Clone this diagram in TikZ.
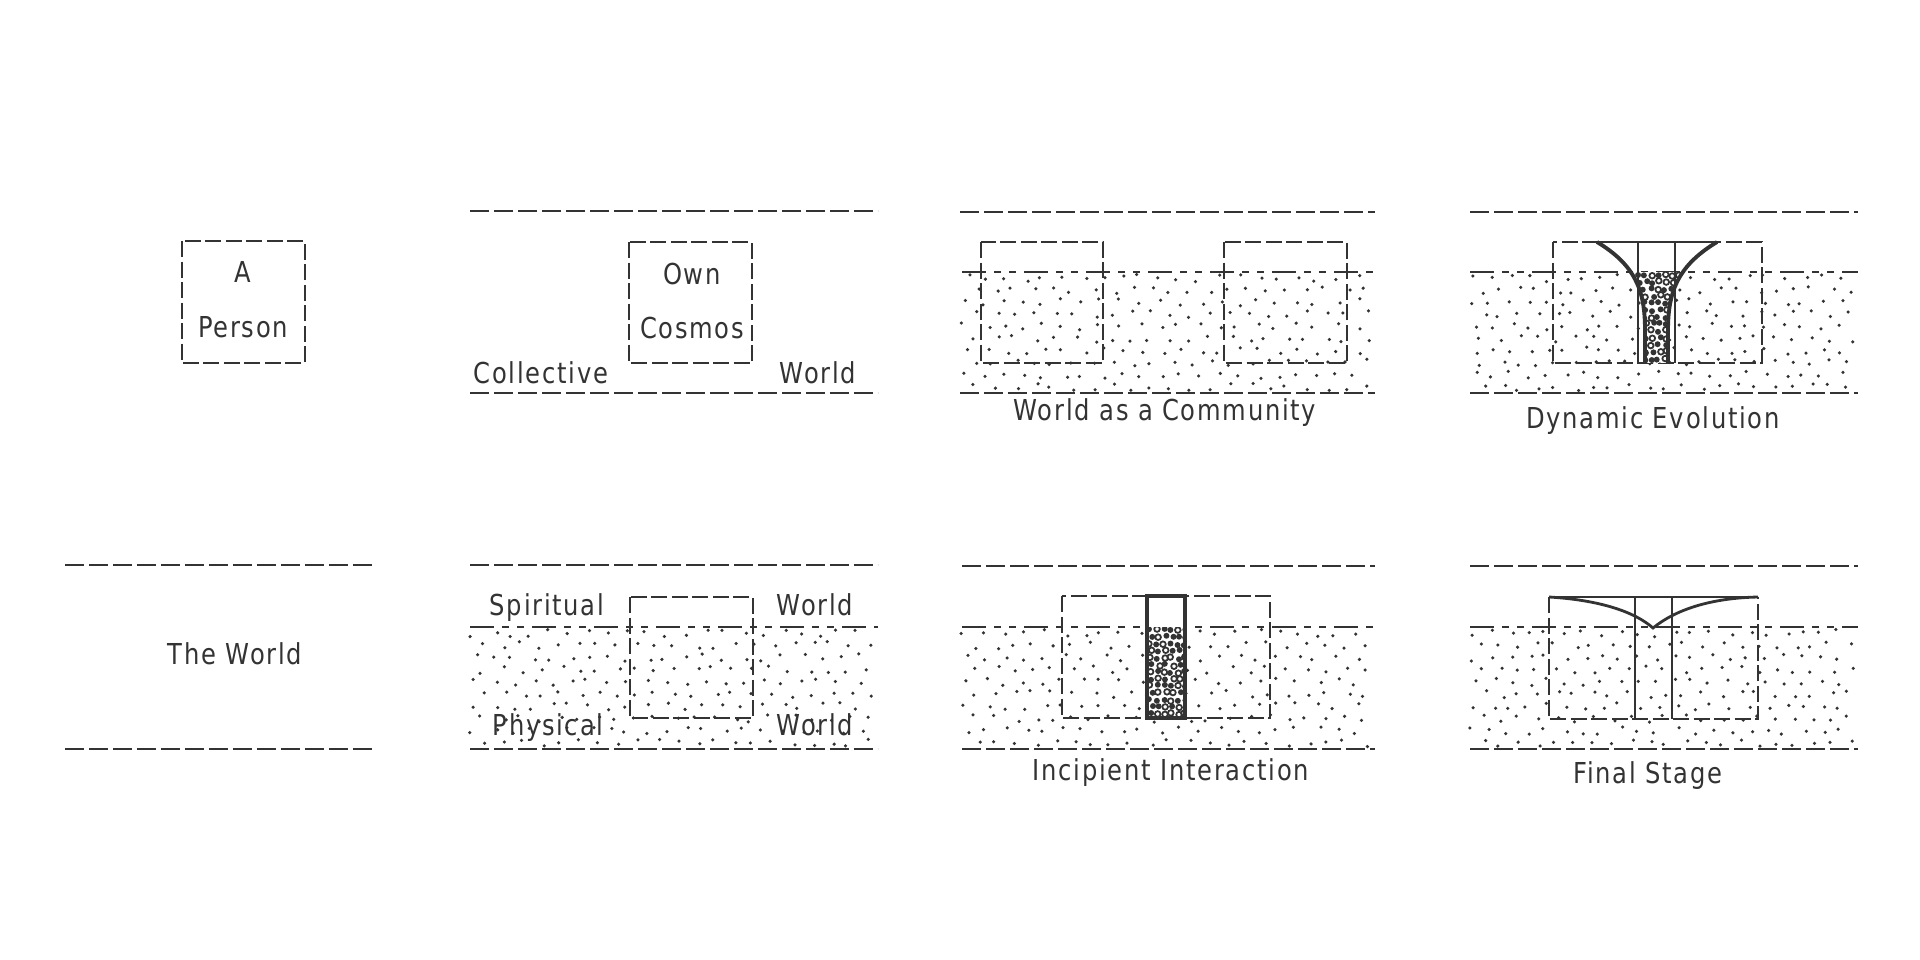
\documentclass[tikz,border=0pt]{standalone}
\usepackage{fontspec}
\setmainfont{DejaVu Sans}[FakeStretch=0.84, LetterSpace=6]
\definecolor{ink}{HTML}{333333}
\tikzset{
    rule/.style={draw=ink, line width=0.7pt, dash pattern=on 1.9mm off 0.5mm},
    frame/.style={draw=ink, line width=0.7pt, dash pattern=on 1.6mm off 0.45mm},
    ground/.style={draw=ink, line width=0.6pt, dash pattern=on 2.4mm off 0.8mm on 0.7mm off 0.8mm on 0.7mm off 0.8mm},
    wall/.style={draw=ink, line width=0.8pt},
    lbl/.style={text=ink, font=\fontsize{8.2}{10}\selectfont, inner sep=0pt, anchor=base},
}
% scattered dots: x1, x2, ytop, ybottom
\newcommand{\dotfield}[4]{%
    \foreach \r in {0,...,9}{%
        \foreach \c in {0,...,20}{%
            \pgfmathsetmacro{\px}{#1+(\c+0.2+0.5*mod(\r,2)+0.25*rand)*(#2-#1)/21.2}%
            \pgfmathsetmacro{\py}{#3+(\r+0.5+0.3*rand)*(#4-#3)/10}%
            \fill[ink] (\px,\py) circle (0.5pt);
        }}}
% pebbles: x1, x2, ytop, ybottom
\newcommand{\pebbles}[4]{%
    \pgfmathtruncatemacro{\nr}{(#4-#3)/7}%
    \pgfmathtruncatemacro{\nc}{(#2-#1)/7}%
    \foreach \r in {0,...,\nr}{%
        \foreach \c in {0,...,\nc}{%
            \pgfmathsetmacro{\px}{#1+3+7*\c+2*mod(\r,2)+1.3*rand}%
            \pgfmathsetmacro{\py}{#3+3+7*\r+1.3*rand}%
            \pgfmathsetmacro{\fl}{rnd}%
            \ifdim\fl pt>0.45pt
                \fill[ink] (\px,\py) circle (0.85pt);
            \else
                \draw[ink, line width=0.5pt] (\px,\py) circle (0.8pt);
            \fi
        }}}

\begin{document}
\begin{tikzpicture}[x=0.1mm, y=-0.1mm]
    \useasboundingbox (0,0) rectangle (1920,960);
    \pgfmathsetseed{4711}

    % a person
    \draw[frame] (182,241) rectangle (305,363);
    \node[lbl] (a) at (243,282) {A};
    \node[lbl] (person) at (243,337) {Person};

    % own cosmos
    \draw[rule] (470,211) -- (878,211);
    \draw[rule] (470,393) -- (878,393);
    \draw[frame] (629,242) rectangle (752,363);
    \node[lbl] (own) at (692,284) {Own};
    \node[lbl] (cosmos) at (692,338) {Cosmos};
    \node[lbl] (collective) at (541,383) {Collective};
    \node[lbl] (world1) at (818,383) {World};

    % world as a community
    \dotfield{962}{1375}{272}{393}
    \draw[rule] (960,212) -- (1375,212);
    \draw[rule] (960,393) -- (1375,393);
    \draw[ground] (962,272) -- (1375,272);
    \draw[frame] (981,242) rectangle (1103,363);
    \draw[frame] (1224,242) rectangle (1347,363);
    \node[lbl] (community) at (1165,420) {World as a Community};

    % dynamic evolution
    \dotfield{1470}{1858}{272}{393}
    \draw[rule] (1470,212) -- (1858,212);
    \draw[rule] (1470,393) -- (1858,393);
    \draw[ground] (1470,272) -- (1858,272);
    \draw[frame] (1553,242) rectangle (1762,363);
    \fill[white] (1643,272) rectangle (1670,363);
    \begin{scope}
        \clip (1590,272) rectangle (1725,363);
        \clip (1597,242) .. controls (1635,265) and (1645,290) .. (1645,330) -- (1645,363)
            -- (1668,363) -- (1668,330) .. controls (1668,290) and (1679,265) .. (1717,242) -- cycle;
        \fill[white] (1590,272) rectangle (1725,363);
        \pebbles{1620}{1695}{272}{363}
    \end{scope}
    \draw[wall] (1638,242) -- (1638,363);
    \draw[wall] (1675,242) -- (1675,363);
    \draw[wall] (1597,242) -- (1717,242);
    \draw[wall, line width=1.1pt] (1597,242) .. controls (1635,265) and (1645,290) .. (1645,330) -- (1645,363);
    \draw[wall, line width=1.1pt] (1717,242) .. controls (1679,265) and (1668,290) .. (1668,330) -- (1668,363);
    \node[lbl] (dynamic) at (1653,428) {Dynamic Evolution};

    % the world
    \draw[rule] (65,565) -- (375,565);
    \draw[rule] (65,749) -- (375,749);
    \node[lbl] (theworld) at (235,664) {The World};

    % spiritual and physical world
    \dotfield{470}{878}{627}{749}
    \draw[rule] (470,565) -- (878,565);
    \draw[rule] (470,749) -- (878,749);
    \draw[ground] (470,627) -- (878,627);
    \draw[frame] (630,597) rectangle (753,718);
    \node[lbl] (spiritual) at (547,615) {Spiritual};
    \node[lbl] (world2) at (815,615) {World};
    \node[lbl] (physical) at (548,735) {Physical};
    \node[lbl] (world3) at (815,735) {World};

    % incipient interaction
    \dotfield{962}{1375}{627}{749}
    \draw[rule] (962,566) -- (1375,566);
    \draw[rule] (962,749) -- (1375,749);
    \draw[ground] (962,627) -- (1375,627);
    \draw[frame] (1062,596) rectangle (1270,718);
    \fill[white] (1147,596) rectangle (1185,718);
    \begin{scope}
        \clip (1148,627) rectangle (1184,718);
        \pebbles{1147}{1185}{627}{718}
    \end{scope}
    \draw[wall, line width=1.1pt] (1147,596) rectangle (1185,718);
    \node[lbl] (incipient) at (1171,780) {Incipient Interaction};

    % final stage
    \dotfield{1470}{1858}{627}{749}
    \draw[rule] (1470,566) -- (1858,566);
    \draw[rule] (1470,749) -- (1858,749);
    \draw[ground] (1470,627) -- (1858,627);
    \draw[frame] (1549,597) -- (1549,719) -- (1758,719) -- (1758,597);
    \draw[wall] (1549,597) -- (1758,597);
    \draw[wall] (1635,597) -- (1635,719);
    \draw[wall] (1672,597) -- (1672,719);
    \draw[wall] (1549,597) .. controls (1600,600) and (1635,612) .. (1653,628)
        .. controls (1675,610) and (1710,598) .. (1758,597);
    \node[lbl] (final) at (1648,783) {Final Stage};
\end{tikzpicture}
\end{document}
